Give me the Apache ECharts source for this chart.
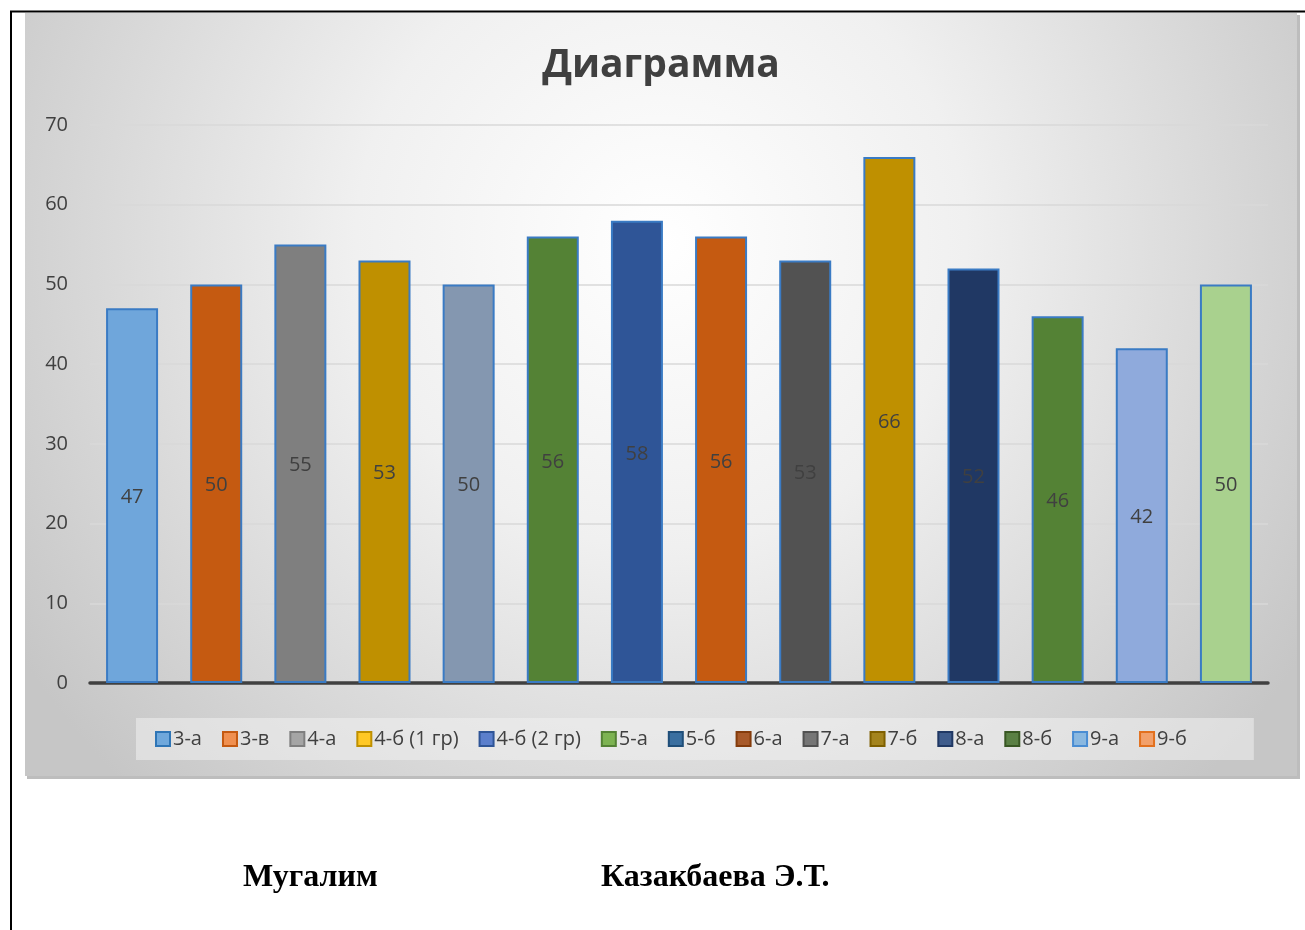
<!DOCTYPE html>
<html><head><meta charset="utf-8">
<script src="https://cdn.jsdelivr.net/npm/echarts@6/dist/echarts.min.js"></script>
<style>html,body{margin:0;padding:0;background:#fff;}#c{width:1305px;height:930px;}</style>
</head><body><div id="c"></div>
<script>
const categories = ['3-а','3-в','4-а','4-б (1 гр)','4-б (2 гр)','5-а','5-б','6-а','7-а','7-б','8-а','8-б','9-а','9-б'];
const values = [47,50,55,53,50,56,58,56,53,66,52,46,42,50];
const barColors = ['#6FA6DB','#C55A11','#7F7F7F','#BF9000','#8497B0','#548235','#2F5597','#C55A11','#525252','#BF9000','#203864','#548235','#8FAADC','#A9D18E'];
const legendFill = ['#6FA8DC','#F09050','#A5A5A5','#FFC825','#5B7FCC','#7DB352','#3A6FA0','#A85A2A','#767676','#A4841D','#3F5C8C','#5A8044','#8AB8E0','#F2A06A'];
const legendBorder = ['#2E75B6','#C55A11','#7F7F7F','#BF9000','#2F5597','#548235','#1F4E79','#843C0C','#525252','#7F6000','#203864','#385723','#4A8DD3','#E2701E'];
const yTicks = [0,10,20,30,40,50,60,70];
const titleText = 'Диаграмма';
const footerLeft = 'Мугалим';
const footerRight = 'Казакбаева Э.Т.';

const chart = echarts.init(document.getElementById('c'), null, {renderer:'canvas'});
const FONT = '"Open Sans", "Noto Sans", sans-serif';

const series = categories.map((name, i) => ({
  name: name,
  type: 'bar',
  stack: 'all',
  barWidth: 52,
  data: categories.map((c, j) => j === i ? values[j] : '-'),
  itemStyle: {color: barColors[i], borderColor: '#3A7BC4', borderWidth: 2},
  label: {show: true, position: 'inside', color: '#404040', fontSize: 20, fontFamily: FONT, offset: [0, 2]},
  emphasis: {disabled: true},
  z: 3
}));

chart.setOption({
  animation: false,
  backgroundColor: '#ffffff',
  grid: {left: 90, right: 37, top: 125, bottom: 247, containLabel: false},
  xAxis: {
    type: 'category', data: categories,
    axisLine: {show: true, lineStyle: {color: '#404040', width: 3.5}},
    axisTick: {show: false}, axisLabel: {show: false}, splitLine: {show: false}
  },
  yAxis: {
    type: 'value', min: yTicks[0], max: yTicks[yTicks.length-1], interval: 10,
    axisLine: {show: false}, axisTick: {show: false},
    axisLabel: {color: '#404040', fontSize: 20, fontFamily: FONT, margin: 22},
    splitLine: {lineStyle: {color: '#D9D9D9', width: 1.5}}
  },
  legend: {
    bottom: 170, left: 136,
    itemWidth: 14, itemHeight: 14, itemGap: 20,
    padding: [11, 67, 11, 19],
    backgroundColor: 'rgba(240,240,240,0.55)',
    textStyle: {fontFamily: FONT, fontSize: 20, color: '#404040', padding: [0,0,0,-2]},
    icon: 'rect',
    selectedMode: false,
    data: categories.map((c, i) => ({name: c, itemStyle: {color: legendFill[i], borderColor: legendBorder[i], borderWidth: 2}}))
  },
  graphic: [
    {type: 'rect', z: -10, silent: true, shape: {x: 27, y: 15, width: 1273, height: 764}, style: {fill: '#BDBDBD'}},
    {type: 'rect', z: -9, silent: true, shape: {x: 25, y: 13, width: 1272, height: 763},
      style: {fill: new echarts.graphic.RadialGradient(0.5, 0.3, 1.0, [
        {offset: 0, color: '#FFFFFF'}, {offset: 0.4, color: '#F0F0F0'}, {offset: 1, color: '#C6C6C6'}])}},
    {type: 'line', z: -8, silent: true, shape: {x1: 10, y1: 11.5, x2: 1305, y2: 11.5}, style: {stroke: '#000', lineWidth: 2}},
    {type: 'line', z: -8, silent: true, shape: {x1: 11, y1: 11, x2: 11, y2: 930}, style: {stroke: '#000', lineWidth: 2}},
    {type: 'text', z: 5, x: 661, y: 66, style: {text: titleText, font: 'bold 39px "Open Sans", sans-serif', fill: '#404040', textAlign: 'center', textVerticalAlign: 'middle'}},
    {type: 'text', z: 5, left: 243, top: 862, style: {text: footerLeft, font: 'bold 32px "Liberation Serif", serif', fill: '#000'}},
    {type: 'text', z: 5, left: 601, top: 862, style: {text: footerRight, font: 'bold 32px "Liberation Serif", serif', fill: '#000'}}
  ],
  series: series
});
</script>
</body></html>
